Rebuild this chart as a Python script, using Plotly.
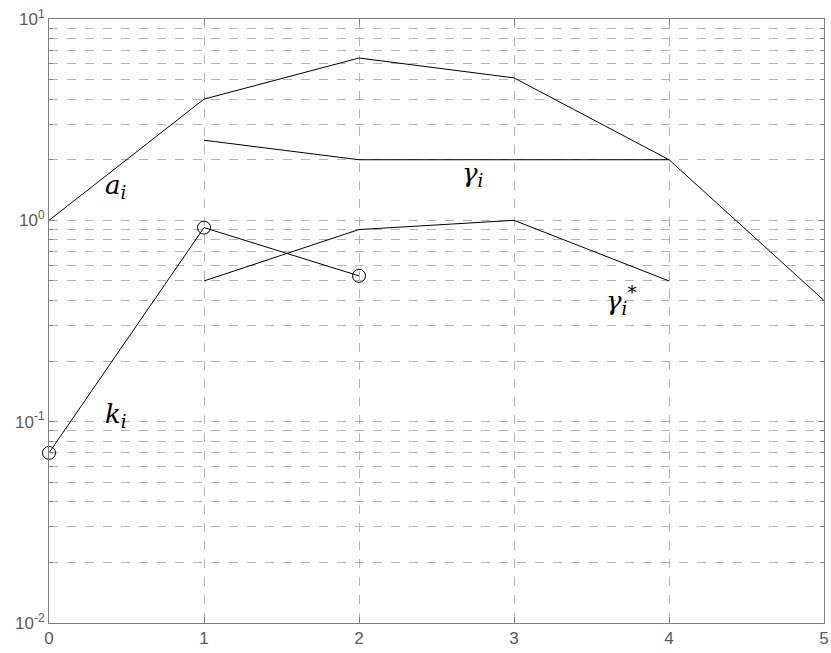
import plotly.graph_objects as go

# Stage index shared by all series
x_a = [0, 1, 2, 3, 4, 5]
a_vals = [1.0, 4.0, 6.4, 5.1, 2.0, 0.4]

x_gamma = [1, 2, 3, 4]
gamma_vals = [2.5, 2.0, 2.0, 2.0]
gamma_star_vals = [0.5, 0.9, 1.0, 0.5]

x_k = [0, 1, 2]
k_vals = [0.07, 0.92, 0.53]

x_ticks = [0, 1, 2, 3, 4, 5]
y_ticks = [0.01, 0.1, 1, 10]
y_tick_text = ["10<sup>-2</sup>", "10<sup>-1</sup>", "10<sup>0</sup>", "10<sup>1</sup>"]
y_minor = [m * 10.0 ** e for e in (-2, -1, 0) for m in range(2, 10)]

line_style = dict(color="black", width=1)

fig = go.Figure()
fig.add_trace(go.Scatter(x=x_a, y=a_vals, mode="lines", line=line_style))
fig.add_trace(go.Scatter(x=x_gamma, y=gamma_vals, mode="lines", line=line_style))
fig.add_trace(go.Scatter(x=x_gamma, y=gamma_star_vals, mode="lines", line=line_style))
fig.add_trace(go.Scatter(
    x=x_k, y=k_vals, mode="lines+markers", line=line_style,
    marker=dict(symbol="circle-open", size=13, color="black", line=dict(width=1, color="black")),
    cliponaxis=False,
))

grid_color = "#b4b4b4"
axis_color = "#808080"
tick_font = dict(family="Arial", size=17, color="#5a5a5a")

fig.update_xaxes(
    range=[0, 5], tickvals=x_ticks, ticks="inside", ticklen=6, tickcolor=axis_color,
    showline=True, linecolor=axis_color, linewidth=1, mirror="ticks",
    showgrid=True, gridcolor=grid_color, griddash="dash", gridwidth=1,
    zeroline=False, tickfont=tick_font, ticklabeloverflow="allow",
)
fig.update_yaxes(
    type="log", range=[-2, 1], tickvals=y_ticks, ticktext=y_tick_text,
    ticks="inside", ticklen=6, tickcolor=axis_color,
    showline=True, linecolor=axis_color, linewidth=1, mirror="ticks",
    showgrid=True, gridcolor=grid_color, griddash="dash", gridwidth=1,
    zeroline=False, tickfont=tick_font, ticklabeloverflow="allow",
    minor=dict(tickvals=y_minor, ticks="inside", ticklen=4, tickcolor=axis_color,
               showgrid=True, gridcolor=grid_color, griddash="dash", gridwidth=1),
)

label_font = dict(family="DejaVu Serif", size=26, color="black", style="italic")
labels = [
    (0.35, 0.17, "a<sub>i</sub>"),
    (0.35, -0.97, "k<sub>i</sub>"),
    (2.65, 0.23, "γ<sub>i</sub>"),
    (3.58, -0.40, "γ<sub>i</sub><sup>*</sup>"),
]
for lx, ly, txt in labels:
    fig.add_annotation(x=lx, y=ly, text=txt, showarrow=False, xanchor="left",
                       yanchor="middle", font=label_font)

fig.update_layout(
    width=831, height=653, showlegend=False,
    margin=dict(l=49, r=2, t=19, b=30),
    paper_bgcolor="white", plot_bgcolor="white",
)

fig.write_html("out.html")
